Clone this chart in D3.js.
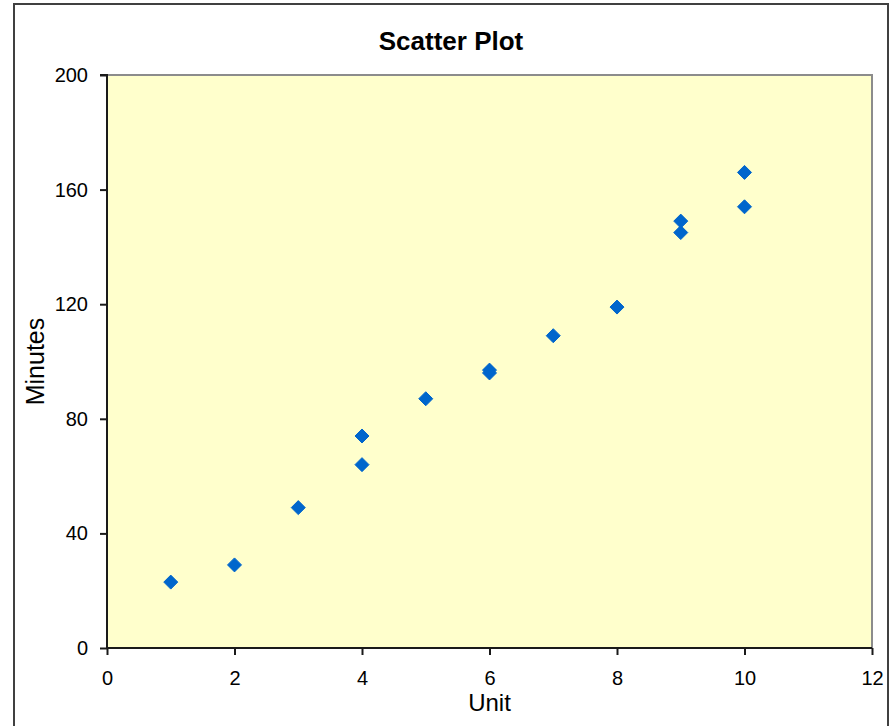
<!DOCTYPE html>
<html>
<head>
<meta charset="utf-8">
<script src="https://cdn.jsdelivr.net/npm/d3@7"></script>
<style>
  html, body { margin: 0; padding: 0; background: #ffffff; }
  svg { display: block; }
</style>
</head>
<body>
<svg id="chart" width="894" height="726"></svg>
<script>
// ---- data ----
const units   = [1, 2, 3, 4, 4, 5, 6, 6, 7, 8, 9, 9, 10, 10];
const minutes = [23, 29, 49, 64, 74, 87, 96, 97, 109, 119, 149, 145, 154, 166];
const xTicks = [0, 2, 4, 6, 8, 10, 12];
const yTicks = [0, 40, 80, 120, 160, 200];
const titleText = "Scatter Plot";
const xLabel = "Unit";
const yLabel = "Minutes";

const svg = d3.select("#chart");
const W = 894, H = 726;
const plot = { left: 107, top: 75, right: 872, bottom: 648 };

// outer frame
svg.append("rect")
  .attr("x", 14).attr("y", 4)
  .attr("width", 874).attr("height", 730)
  .attr("fill", "#ffffff")
  .attr("stroke", "#404040").attr("stroke-width", 2);

const x = d3.scaleLinear().domain([0, 12]).range([plot.left, plot.right]);
const y = d3.scaleLinear().domain([0, 200]).range([plot.bottom, plot.top]);

// plot area
svg.append("rect")
  .attr("x", plot.left).attr("y", plot.top)
  .attr("width", plot.right - plot.left).attr("height", plot.bottom - plot.top)
  .attr("fill", "#FFFFCC")
  .attr("stroke", "#8c8c8c").attr("stroke-width", 2);

// title
svg.append("text")
  .attr("x", 451).attr("y", 50)
  .attr("text-anchor", "middle")
  .attr("font-family", "Arial, 'Liberation Sans', sans-serif")
  .attr("font-weight", "bold")
  .attr("font-size", 26)
  .attr("fill", "#000")
  .text(titleText);

// axes
const yAxis = d3.axisLeft(y).tickValues(yTicks).tickSize(7).tickPadding(12).tickFormat(d3.format("d"));
const xAxis = d3.axisBottom(x).tickValues(xTicks).tickSize(7).tickPadding(16).tickFormat(d3.format("d"));

const gy = svg.append("g").attr("transform", `translate(${plot.left},0)`).call(yAxis);
const gx = svg.append("g").attr("transform", `translate(0,${plot.bottom})`).call(xAxis);

[gx, gy].forEach(g => {
  g.select(".domain").attr("stroke", "#1a1a1a").attr("stroke-width", 2);
  g.selectAll(".tick line").attr("stroke", "#1a1a1a").attr("stroke-width", 2);
  g.selectAll(".tick text")
    .attr("font-family", "Arial, 'Liberation Sans', sans-serif")
    .attr("font-size", 20)
    .attr("fill", "#000");
});
gy.select(".domain").attr("d", `M-7,${plot.top}H0V${plot.bottom}`);
gx.select(".domain").attr("d", `M${plot.left},0H${plot.right}`);

// axis titles
svg.append("text")
  .attr("x", (plot.left + plot.right) / 2).attr("y", 711)
  .attr("text-anchor", "middle")
  .attr("font-family", "Arial, 'Liberation Sans', sans-serif")
  .attr("font-size", 24)
  .attr("fill", "#000")
  .text(xLabel);

svg.append("text")
  .attr("transform", `translate(44,${(plot.top + plot.bottom) / 2}) rotate(-90)`)
  .attr("text-anchor", "middle")
  .attr("font-family", "Arial, 'Liberation Sans', sans-serif")
  .attr("font-size", 25)
  .attr("fill", "#000")
  .text(yLabel);

// points (diamonds)
const pts = units.map((u, i) => ({ u, m: minutes[i] }));
const r = 7;
svg.append("g").selectAll("path")
  .data(pts)
  .enter().append("path")
  .attr("d", d => {
    const cx = x(d.u), cy = y(d.m);
    return `M${cx},${cy - r}L${cx + r},${cy}L${cx},${cy + r}L${cx - r},${cy}Z`;
  })
  .attr("fill", "#0066CC")
  .attr("stroke", "#0066CC")
  .attr("stroke-width", 1);
</script>
</body>
</html>
